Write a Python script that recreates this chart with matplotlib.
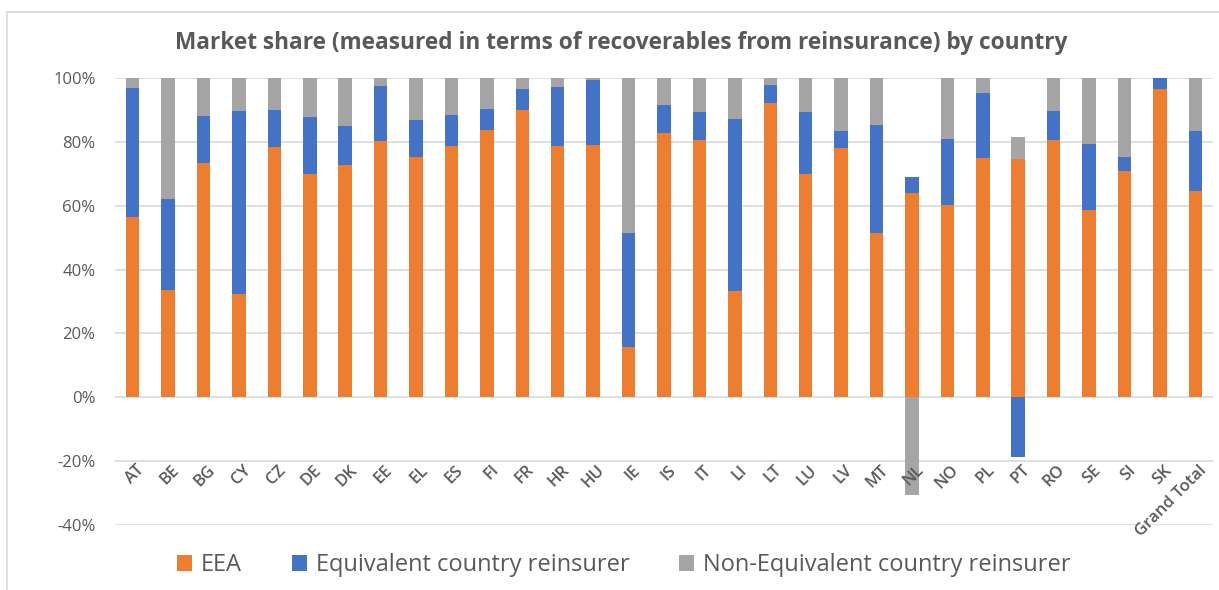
import numpy as np
import matplotlib.pyplot as plt
from matplotlib.patches import Rectangle
from matplotlib.ticker import PercentFormatter

plt.rcParams['font.family'] = ['Open Sans', 'DejaVu Sans']
plt.rcParams['axes.unicode_minus'] = False

countries = ['AT', 'BE', 'BG', 'CY', 'CZ', 'DE', 'DK', 'EE', 'EL', 'ES', 'FI', 'FR',
             'HR', 'HU', 'IE', 'IS', 'IT', 'LI', 'LT', 'LU', 'LV', 'MT', 'NL', 'NO',
             'PL', 'PT', 'RO', 'SE', 'SI', 'SK', 'Grand Total']

# shares in %
eea = [56.6, 33.5, 73.5, 32.5, 78.4, 70.0, 72.8, 80.3, 75.2, 78.7, 83.8, 90.0,
       78.7, 78.9, 15.6, 82.8, 80.5, 33.3, 92.1, 69.9, 78.1, 51.3, 64.0, 60.1,
       75.1, 74.6, 80.7, 58.7, 70.8, 96.5, 64.7]
equivalent = [40.3, 28.5, 14.7, 57.3, 11.6, 17.7, 12.1, 17.2, 11.6, 9.7, 6.4, 6.5,
              18.5, 20.6, 35.9, 8.7, 8.7, 53.9, 5.8, 19.6, 5.2, 34.0, 5.1, 20.8,
              20.2, -18.7, 9.0, 20.7, 4.5, 3.5, 18.6]
non_equivalent = [3.1, 38.0, 11.8, 10.2, 10.0, 12.3, 15.1, 2.5, 13.2, 11.6, 9.8, 3.5,
                  2.8, 0.5, 48.5, 8.5, 10.8, 12.8, 2.1, 10.5, 16.7, 14.7, -30.7, 19.1,
                  4.7, 6.9, 10.3, 20.6, 24.7, 0.0, 16.7]

series = [('EEA', eea, '#ED7D31'),
          ('Equivalent country reinsurer', equivalent, '#4472C4'),
          ('Non-Equivalent country reinsurer', non_equivalent, '#A5A5A5')]

fig = plt.figure(figsize=(12.19, 5.90), dpi=100)
ax = fig.add_axes([115 / 1219, 1 - 525 / 590, 1098 / 1219, 447 / 590])

# chart frame like the spreadsheet chart area
fig.patches.append(Rectangle((7 / 1219, -0.1), 1.2, 1 - 12 / 590 + 0.1,
                             transform=fig.transFigure, fill=False,
                             edgecolor='#d9d9d9', linewidth=1.2))

x = np.arange(len(countries))
pos_base = np.zeros(len(countries))
neg_base = np.zeros(len(countries))
for name, vals, color in series:
    vals = np.array(vals)
    base = np.where(vals >= 0, pos_base, neg_base)
    ax.bar(x, vals, 0.38, bottom=base, color=color, label=name, zorder=2)
    pos_base += np.where(vals >= 0, vals, 0)
    neg_base += np.where(vals < 0, vals, 0)

ax.set_xlim(-0.5, len(countries) - 0.5)
ax.set_ylim(-40, 100)
ax.set_yticks(np.arange(-40, 101, 20))
ax.yaxis.set_major_formatter(PercentFormatter(decimals=0))
ax.grid(axis='y', color='#d9d9d9', linewidth=1.2, zorder=0)
for s in ax.spines.values():
    s.set_visible(False)
ax.tick_params(axis='y', length=0, pad=14, labelsize=12, labelcolor='#595959')
ax.set_xticks([])

for i, lab in enumerate(countries):
    ax.text(i + 0.1, -20.3, lab, rotation=45, ha='right', va='top',
            rotation_mode='anchor', fontsize=12, color='#595959', fontweight='semibold')

fig.text(621 / 1219, 1 - 43 / 590, 'Market share (measured in terms of recoverables from reinsurance) by country',
         ha='center', va='center', fontsize=16.3, fontweight='bold', color='#595959')

fig.legend(loc='center left', bbox_to_anchor=(177 / 1219, 1 - 565 / 590), ncol=3,
           frameon=False, fontsize=17, handlelength=0.64, handleheight=0.64,
           handletextpad=0.38, columnspacing=2.1, borderpad=0, borderaxespad=0,
           labelcolor='#595959')

fig.savefig('out.png', dpi=100)
